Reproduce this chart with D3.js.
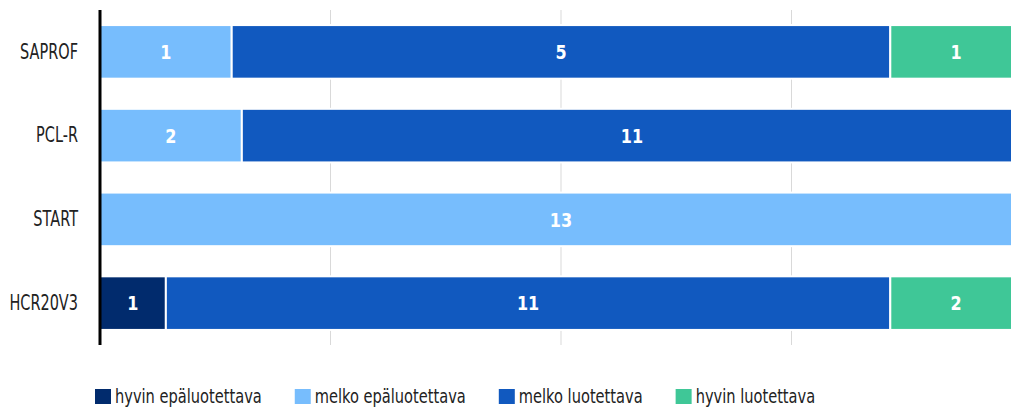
<!DOCTYPE html>
<html>
<head>
<meta charset="utf-8">
<script src="https://cdn.jsdelivr.net/npm/d3@7"></script>
<style>
  body { margin: 0; background: #fff; }
  text { font-family: "DejaVu Sans", sans-serif; }
</style>
</head>
<body>
<div id="chart"></div>
<script>
// data
var categories = ["SAPROF", "PCL-R", "START", "HCR20V3"];
var seriesNames = ["hyvin epäluotettava", "melko epäluotettava", "melko luotettava", "hyvin luotettava"];
var seriesColors = ["#012b6d", "#77bdfd", "#1159bf", "#3fc797"];
var hyvinEpa = [0, 0, 0, 1];
var melkoEpa = [1, 2, 13, 0];
var melkoLuo = [5, 11, 0, 11];
var hyvinLuo = [1, 0, 0, 2];
var xTicks = [0, 0.25, 0.5, 0.75, 1];

var w = 1011, h = 407,
    marginTop = 10, marginLeft = 100, plotW = 922, plotH = 335;

var svg = d3.select("#chart").append("svg")
    .attr("width", w).attr("height", h);

var rows = categories.map(function(c, i) {
  return {cat: c, vals: [hyvinEpa[i], melkoEpa[i], melkoLuo[i], hyvinLuo[i]]};
});

var x = d3.scaleLinear().domain([0, 1]).range([marginLeft, marginLeft + plotW]);
var y = d3.scaleBand().domain(categories).range([marginTop, marginTop + plotH]).paddingInner(0.36).paddingOuter(0.18);

// gridlines
svg.append("g").selectAll("line")
  .data(xTicks.slice(1))
  .enter().append("line")
  .attr("x1", function(d) { return x(d); })
  .attr("x2", function(d) { return x(d); })
  .attr("y1", marginTop).attr("y2", marginTop + plotH)
  .attr("stroke", "#d9d9d9").attr("stroke-width", 1);

// segments
var segs = [];
rows.forEach(function(r) {
  var total = d3.sum(r.vals), acc = 0;
  r.vals.forEach(function(v, k) {
    if (v > 0) segs.push({cat: r.cat, k: k, v: v, x0: acc / total, x1: (acc + v) / total});
    acc += v;
  });
});

var g = svg.append("g");
g.selectAll("rect").data(segs).enter().append("rect")
  .attr("x", function(d) { return x(d.x0); })
  .attr("width", function(d) { return x(d.x1) - x(d.x0); })
  .attr("y", function(d) { return y(d.cat); })
  .attr("height", y.bandwidth())
  .attr("fill", function(d) { return seriesColors[d.k]; })
  .attr("stroke", "#fff").attr("stroke-width", 2);

// value labels, squeezed to look condensed
g.selectAll("text").data(segs).enter().append("text")
  .attr("transform", function(d) {
    return "translate(" + (x(d.x0) + x(d.x1)) / 2 + "," + (y(d.cat) + y.bandwidth() / 2) + ") scale(0.8,1)";
  })
  .attr("dy", "0.36em")
  .attr("text-anchor", "middle")
  .attr("fill", "#fff").attr("font-weight", "bold").attr("font-size", 20)
  .text(function(d) { return d.v; });

// y axis
var yAxis = svg.append("g")
  .attr("transform", "translate(" + marginLeft + ",0)")
  .call(d3.axisLeft(y).tickSize(0));
yAxis.select(".domain").attr("stroke", "#000").attr("stroke-width", 3)
  .attr("d", "M0," + marginTop + "V" + (marginTop + plotH));
yAxis.selectAll(".tick text")
  .attr("x", 0)
  .attr("transform", "translate(-22,0) scale(0.69,1)")
  .attr("font-size", 21).attr("fill", "#222");

// legend
var legend = svg.append("g").attr("transform", "translate(95,389)");
var lx = 0, sq = 0.77;
seriesNames.forEach(function(name, k) {
  var it = legend.append("g").attr("transform", "translate(" + lx + ",0)");
  it.append("rect").attr("width", 16).attr("height", 15).attr("fill", seriesColors[k]);
  var t = it.append("text")
    .attr("transform", "translate(20,7.5) scale(" + sq + ",1)")
    .attr("dy", "0.36em")
    .attr("font-size", 19).attr("fill", "#222").text(name);
  lx += 20 + t.node().getComputedTextLength() * sq + 33;
});
</script>
</body>
</html>
